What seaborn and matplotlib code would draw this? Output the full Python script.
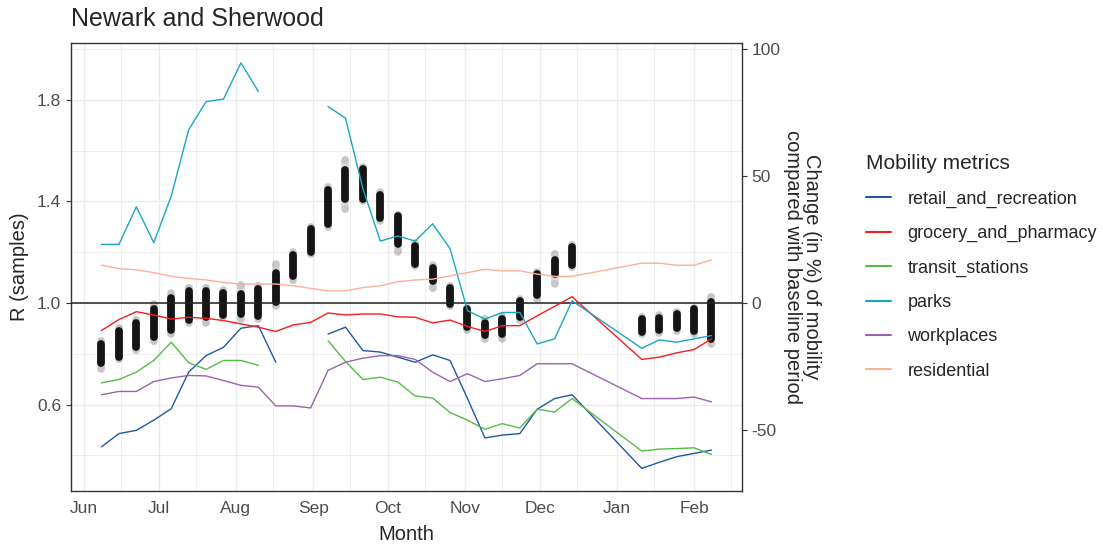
import numpy as np
import pandas as pd
import matplotlib
matplotlib.use("Agg")
import matplotlib.pyplot as plt
import matplotlib.dates as mdates
from matplotlib.lines import Line2D
import seaborn as sns

# --- weekly dates (R samples and mobility share the same weeks) ---
weeks = ["2020-06-08", "2020-06-15", "2020-06-22", "2020-06-29",
         "2020-07-06", "2020-07-13", "2020-07-20", "2020-07-27",
         "2020-08-03", "2020-08-10", "2020-08-17", "2020-08-24", "2020-08-31",
         "2020-09-07", "2020-09-14", "2020-09-21", "2020-09-28",
         "2020-10-05", "2020-10-12", "2020-10-19", "2020-10-26",
         "2020-11-02", "2020-11-09", "2020-11-16", "2020-11-23", "2020-11-30",
         "2020-12-07", "2020-12-14",
         "2021-01-11", "2021-01-18", "2021-01-25", "2021-02-01", "2021-02-08"]

# --- R samples: bulk of the samples (core) and the outermost samples ---
r_core_lo = [0.763, 0.788, 0.827, 0.866, 0.892, 0.932, 0.944, 0.954, 0.958, 0.951, 1.003,
             1.108, 1.202, 1.311, 1.409, 1.409, 1.333, 1.232, 1.154, 1.085, 0.997,
             0.905, 0.873, 0.879, 0.945, 1.030, 1.115, 1.150,
             0.886, 0.892, 0.901, 0.889, 0.860]
r_core_hi = [0.838, 0.891, 0.923, 0.975, 1.021, 1.047, 1.047, 1.041, 1.034, 1.054, 1.119,
             1.191, 1.292, 1.446, 1.524, 1.527, 1.426, 1.342, 1.224, 1.139, 1.061,
             0.975, 0.923, 0.936, 1.008, 1.113, 1.171, 1.221,
             0.939, 0.943, 0.956, 0.975, 1.004]
r_outer_lo = [0.742, 0.779, 0.814, 0.849, 0.879, 0.923, 0.923, 0.945, 0.938, 0.938, 0.990,
              1.089, 1.193, 1.301, 1.370, 1.402, 1.324, 1.202, 1.147, 1.058, 0.988,
              0.892, 0.857, 0.860, 0.932, 1.017, 1.076, 1.141,
              0.879, 0.883, 0.889, 0.879, 0.840]
r_outer_hi = [0.851, 0.900, 0.934, 0.995, 1.038, 1.061, 1.061, 1.051, 1.070, 1.067, 1.152,
              1.200, 1.300, 1.457, 1.564, 1.535, 1.436, 1.348, 1.237, 1.148, 1.067,
              0.982, 0.939, 0.949, 1.015, 1.122, 1.195, 1.230,
              0.947, 0.952, 0.965, 0.982, 1.025]

# --- mobility (% change from baseline) ---
nan = np.nan
retail_and_recreation = [-56.6, -51.4, -50.1, -46.1, -41.6, -27.2, -20.7, -17.4, -9.9, -8.9, -23.3,
                         nan, nan, -12.2, -9.5, -18.7, -19.3, -21.3, -23.3, -20.4, -22.6,
                         -37.6, -53.1, -52.0, -51.4, -41.8, -37.6, -36.1,
                         -65.1, -62.7, -60.5, -59.2, -57.9]
grocery_and_pharmacy = [-10.8, -6.5, -3.4, -4.7, -6.3, -5.6, -6.0, -6.9, -8.2, -9.5, -11.2,
                        -8.6, -7.6, -3.9, -4.7, -4.3, -4.3, -5.4, -5.6, -7.8, -6.7,
                        -9.2, -11.2, -8.9, -8.9, -5.0, -1.3, 2.5,
                        -22.2, -21.3, -19.6, -18.3, -14.1]
transit_stations = [-31.4, -30.1, -27.2, -22.6, -15.4, -23.5, -26.1, -22.6, -22.6, -24.5, nan,
                    nan, nan, -14.8, -23.0, -30.1, -29.2, -31.1, -36.6, -37.4, -43.1,
                    -46.1, -49.7, -47.5, -49.2, -41.8, -42.9, -37.6,
                    -58.3, -57.5, -57.3, -57.0, -59.6]
parks = [23.1, 23.1, 37.9, 23.8, 42.1, 68.2, 79.3, 80.3, 94.6, 83.3, nan,
         nan, nan, 77.4, 72.8, 45.0, 24.4, 26.4, 24.4, 31.2, 21.4,
         -3.0, -6.3, -3.7, -3.7, -16.1, -14.1, 0.9,
         -17.8, -14.5, -15.4, -14.1, -12.8]
workplaces = [-36.1, -34.8, -34.8, -30.9, -29.5, -28.5, -28.7, -30.5, -32.4, -33.1, -40.5,
              -40.5, -41.3, -26.5, -23.3, -21.7, -20.7, -20.7, -22.2, -27.2, -30.9,
              -27.8, -30.9, -29.8, -28.5, -23.9, -23.9, -23.9,
              -37.6, -37.6, -37.6, -37.0, -38.9]
residential = [14.9, 13.6, 13.1, 12.0, 10.5, 9.7, 9.1, 8.1, 7.5, 7.5, 7.5,
               6.8, 5.8, 4.8, 4.8, 6.1, 6.8, 8.4, 9.1, 9.4, 10.7,
               12.0, 13.3, 12.7, 12.7, 11.4, 10.5, 10.5,
               15.7, 15.7, 14.9, 14.9, 17.0]

metric_names = ["retail_and_recreation", "grocery_and_pharmacy", "transit_stations",
                "parks", "workplaces", "residential"]
metric_colors = ["#2257A5", "#F81B1F", "#55BD47", "#19A6C4", "#9B62AE", "#FDAF96"]

# --- build frames ---
dates = pd.to_datetime(weeks)
r_df = pd.DataFrame({"date": dates, "core_lo": r_core_lo, "core_hi": r_core_hi,
                     "outer_lo": r_outer_lo, "outer_hi": r_outer_hi})
r_ends = pd.concat([r_df[["date", "outer_lo"]].rename(columns={"outer_lo": "R"}),
                    r_df[["date", "outer_hi"]].rename(columns={"outer_hi": "R"})])

series = [retail_and_recreation, grocery_and_pharmacy, transit_stations,
          parks, workplaces, residential]
frames = []
for name, vals in zip(metric_names, series):
    d = pd.DataFrame({"date": dates, "value": vals, "metric": name})
    d["segment"] = d["value"].isna().cumsum()   # break the line at missing weeks
    frames.append(d.dropna())
mob = pd.concat(frames, ignore_index=True)

# --- style ---
sns.set_style("white")
plt.rcParams["font.family"] = ["Liberation Sans", "DejaVu Sans"]
plt.rcParams["axes.unicode_minus"] = False
grid_col = "#EBEBEB"
dark = "#333333"
tick_col = "#4D4D4D"

W, H = 1103, 548
fig = plt.figure(figsize=(W / 100, H / 100), dpi=100)
px_l, px_r, px_t, px_b = 71, 742, 43, 491
ax = fig.add_axes([px_l / W, 1 - px_b / H, (px_r - px_l) / W, (px_b - px_t) / H])

r_lim = (0.26, 2.024)
x_lim = (dates[0] - pd.Timedelta(days=12.25), dates[-1] + pd.Timedelta(days=12.25))

# R samples
ax.vlines(r_df["date"], r_df["outer_lo"], r_df["outer_hi"], color="black",
          alpha=0.15, lw=5.6, capstyle="round", zorder=2)
sns.scatterplot(data=r_ends, x="date", y="R", color="black", alpha=0.08, s=32,
                edgecolor="none", ax=ax, zorder=2)
ax.vlines(r_df["date"], r_df["core_lo"], r_df["core_hi"], color="black",
          alpha=0.9, lw=5.6, capstyle="round", zorder=3)
ax.axhline(1.0, color="#222222", lw=1.1, zorder=4)

# mobility lines on secondary scale
ax2 = ax.twinx()
sns.lineplot(data=mob, x="date", y="value", hue="metric", units="segment",
             estimator=None, hue_order=metric_names, palette=metric_colors,
             lw=1.0, legend=False, ax=ax2, zorder=5)

# --- axes ---
ax.set_ylim(*r_lim)
ax2.set_ylim((r_lim[0] - 1) * 100, (r_lim[1] - 1) * 100)
ax.set_xlim(*x_lim)

ax.set_yticks([0.6, 1.0, 1.4, 1.8])
ax.set_yticklabels(["0.6", "1.0", "1.4", "1.8"])
ax.set_yticks([0.4, 0.8, 1.2, 1.6, 2.0], minor=True)
ax2.set_yticks([-50, 0, 50, 100])
ax.xaxis.set_major_locator(mdates.MonthLocator())
ax.xaxis.set_major_formatter(mdates.DateFormatter("%b"))
ax.xaxis.set_minor_locator(mdates.MonthLocator(bymonthday=16))

ax.set_axisbelow(True)
ax.grid(True, which="major", color=grid_col, lw=1.0)
ax.grid(True, which="minor", color=grid_col, lw=0.6)
ax2.grid(False)

ax.tick_params(which="major", length=3.5, width=0.8, color=dark, labelcolor=tick_col,
               labelsize=12.5, pad=3.5)
ax.tick_params(which="minor", length=0)
ax2.tick_params(axis="y", length=3.5, width=0.8, color=dark, labelcolor=tick_col,
                labelsize=12.5, pad=3.5)

for s in ax.spines.values():
    s.set_color(dark)
    s.set_linewidth(1.0)
for s in ax2.spines.values():
    s.set_visible(False)

ax.set_xlabel("")
ax.set_ylabel("")
ax2.set_xlabel("")
ax2.set_ylabel("")

# --- text ---
fig.text(px_l / W, 1 - 26 / H, "Newark and Sherwood", fontsize=18, ha="left", va="baseline")
fig.text((px_l + px_r) / 2 / W, 1 - 534 / H, "Month", fontsize=14.5, ha="center", va="center")
fig.text(20 / W, 1 - 267 / H, "R (samples)", fontsize=14.5, rotation=90, ha="center", va="center")
fig.text(802 / W, 1 - 267 / H, "Change (in %) of mobility\ncompared with baseline period",
         fontsize=14.5, rotation=-90, ha="center", va="center", linespacing=1.0,
         multialignment="center")

# --- legend ---
handles = [Line2D([0], [0], color=c, lw=1.5) for c in metric_colors]
fig.legend(handles, metric_names, loc="upper left", bbox_to_anchor=(866 / W, 1 - 154 / H),
           bbox_transform=fig.transFigure, frameon=False, borderpad=0, borderaxespad=0,
           title="Mobility metrics", title_fontsize=15, fontsize=13, handlelength=1.4,
           handletextpad=0.9, labelspacing=0.96, alignment="left")

fig.savefig("out.png", dpi=100)
